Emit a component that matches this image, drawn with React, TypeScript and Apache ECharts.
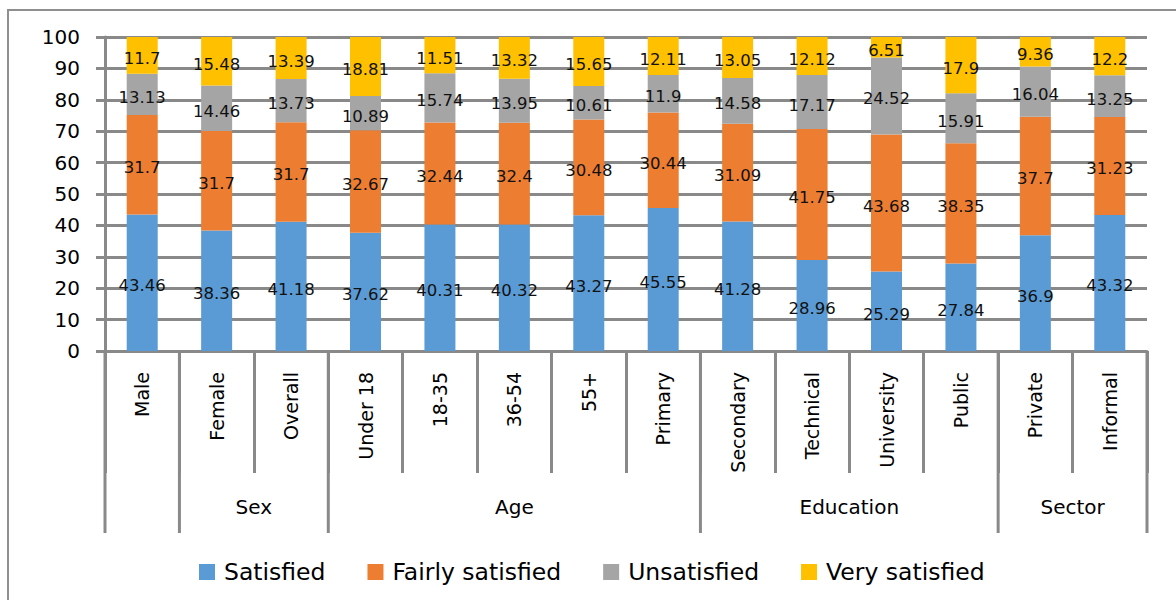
import React, { useEffect, useRef } from "react";
import * as echarts from "echarts";

const categories = [
  "Male", "Female", "Overall", "Under 18", "18-35", "36-54", "55+",
  "Primary", "Secondary", "Technical", "University", "Public", "Private", "Informal",
];
const satisfied = [43.46, 38.36, 41.18, 37.62, 40.31, 40.32, 43.27, 45.55, 41.28, 28.96, 25.29, 27.84, 36.9, 43.32];
const fairlySatisfied = [31.7, 31.7, 31.7, 32.67, 32.44, 32.4, 30.48, 30.44, 31.09, 41.75, 43.68, 38.35, 37.7, 31.23];
const unsatisfied = [13.13, 14.46, 13.73, 10.89, 15.74, 13.95, 10.61, 11.9, 14.58, 17.17, 24.52, 15.91, 16.04, 13.25];
const verySatisfied = [11.7, 15.48, 13.39, 18.81, 11.51, 13.32, 15.65, 12.11, 13.05, 12.12, 6.51, 17.9, 9.36, 12.2];

const seriesNames = ["Satisfied", "Fairly satisfied", "Unsatisfied", "Very satisfied"];
const seriesColors = ["#5B9BD5", "#ED7D31", "#A5A5A5", "#FFC000"];

// Group label level of the x axis (boundaries as category indices)
const groupNames = ["Sex", "Age", "Education", "Sector"];
const groupStart = [1, 3, 8, 12];
const groupEnd = [3, 8, 12, 14];
const longBoundaries = [0, 1, 3, 8, 12, 14];

const yTicks = [0, 10, 20, 30, 40, 50, 60, 70, 80, 90, 100];

const FONT = "'DejaVu Sans', sans-serif";
const LINE = "#898989";

export default function App() {
  const ref = useRef<HTMLDivElement>(null);
  useEffect(() => {
    const el = ref.current!;
    const chart = echarts.init(el, null, { renderer: "svg" });
    const dataSets = [satisfied, fairlySatisfied, unsatisfied, verySatisfied];
    chart.setOption({
      animation: false,
      grid: { left: 105, right: 29, top: 37, bottom: 249, containLabel: false },
      legend: {
        left: 199,
        top: 560,
        padding: 0,
        itemWidth: 16,
        itemHeight: 16,
        itemGap: 42,
        icon: "rect",
        textStyle: { fontFamily: FONT, fontSize: 23.5, color: "#000", padding: [0, 0, 0, 4] },
        data: seriesNames,
      },
      xAxis: {
        type: "category",
        data: categories,
        axisLine: { show: true, lineStyle: { color: LINE, width: 3 } },
        axisTick: { show: true, length: 122, interval: 0, lineStyle: { color: LINE, width: 3 } },
        axisLabel: {
          rotate: 90,
          interval: 0,
          margin: 21,
          fontFamily: FONT,
          fontSize: 19,
          color: "#000",
        },
      },
      yAxis: {
        type: "value",
        min: 0,
        max: yTicks[yTicks.length - 1],
        interval: 10,
        axisLine: { show: true, lineStyle: { color: LINE, width: 3 } },
        axisTick: { show: true, length: 9, lineStyle: { color: LINE, width: 3 } },
        splitLine: { show: true, lineStyle: { color: LINE, width: 3 } },
        axisLabel: { margin: 25, fontFamily: FONT, fontSize: 20, color: "#000" },
      },
      series: seriesNames.map((name, i) => ({
        name,
        type: "bar",
        stack: "total",
        barWidth: 31,
        data: dataSets[i],
        itemStyle: { color: seriesColors[i] },
        label: {
          show: true,
          position: "inside",
          offset: [0, 3],
          fontFamily: FONT,
          fontSize: 16.5,
          color: "#111",
          formatter: (p: any) => String(p.value),
        },
      })),
    });

    const c0 = chart.convertToPixel({ xAxisIndex: 0 }, 0) as number;
    const c1 = chart.convertToPixel({ xAxisIndex: 0 }, 1) as number;
    const bw = c1 - c0;
    const xb = (k: number) => c0 - bw / 2 + k * bw;
    const yBottom = chart.convertToPixel({ yAxisIndex: 0 }, 0) as number;

    const elements: any[] = [
      {
        type: "rect",
        shape: { x: 8, y: 10, width: 1220, height: 700 },
        style: { fill: "none", stroke: "#8f8f8f", lineWidth: 2 },
        silent: true,
        z: -10,
      },
    ];
    longBoundaries.forEach((k) => {
      elements.push({
        type: "line",
        shape: { x1: xb(k), y1: yBottom, x2: xb(k), y2: yBottom + 182 },
        style: { stroke: LINE, lineWidth: 3 },
        silent: true,
      });
    });
    groupNames.forEach((g, i) => {
      elements.push({
        type: "text",
        x: (xb(groupStart[i]) + xb(groupEnd[i])) / 2,
        y: yBottom + 156,
        style: {
          text: g,
          font: `20px ${FONT}`,
          fill: "#000",
          align: "center",
          verticalAlign: "middle",
        },
        silent: true,
      });
    });
    chart.setOption({ graphic: { elements } });

    return () => chart.dispose();
  }, []);
  return (
    <div
      ref={ref}
      style={{ position: "absolute", left: 0, top: 0, width: 1176, height: 600, background: "#fff" }}
    />
  );
}
